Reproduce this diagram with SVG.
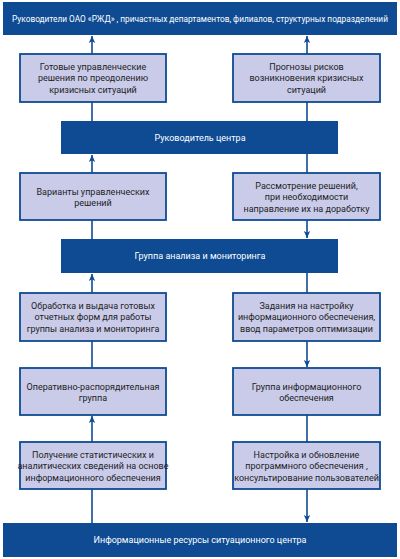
<svg xmlns="http://www.w3.org/2000/svg" width="400" height="559" viewBox="0 0 400 559">
<style>
.bar{fill:#0e4b93}
.box{fill:#c9cbe9;stroke:#0e4b93;stroke-width:1.8}
.wt{fill:#ffffff;font-family:Roboto,"Liberation Sans",sans-serif;font-size:9px;text-anchor:middle}
.bt{fill:#1e1e1e;font-family:Roboto,"Liberation Sans",sans-serif;font-size:9px;text-anchor:middle}
.ln{stroke:#0e4b93;stroke-width:1.6;fill:none}
</style>
<defs>
<marker id="ah" markerWidth="8" markerHeight="8" refX="7" refY="4" orient="auto" markerUnits="userSpaceOnUse">
<path d="M0,0.8 L7,4 L0,7.2 L1.8,4 Z" fill="#0e4b93"/>
</marker>
</defs>
<rect width="400" height="559" fill="#ffffff"/>
<g id="connectors">
<line class="ln" x1="92" y1="54" x2="92" y2="36" marker-end="url(#ah)"/>
<line class="ln" x1="92" y1="121" x2="92" y2="102"/>
<line class="ln" x1="92" y1="173" x2="92" y2="155" marker-end="url(#ah)"/>
<line class="ln" x1="92" y1="239" x2="92" y2="220"/>
<line class="ln" x1="92" y1="293" x2="92" y2="274" marker-end="url(#ah)"/>
<line class="ln" x1="92" y1="368" x2="92" y2="341"/>
<line class="ln" x1="92" y1="442" x2="92" y2="416" marker-end="url(#ah)"/>
<line class="ln" x1="92" y1="523" x2="92" y2="489"/>
<line class="ln" x1="307" y1="54" x2="307" y2="36" marker-end="url(#ah)"/>
<line class="ln" x1="307" y1="121" x2="307" y2="102"/>
<line class="ln" x1="307" y1="154" x2="307" y2="173"/>
<line class="ln" x1="307" y1="220" x2="307" y2="238" marker-end="url(#ah)"/>
<line class="ln" x1="307" y1="273" x2="307" y2="293"/>
<line class="ln" x1="307" y1="341" x2="307" y2="367" marker-end="url(#ah)"/>
<line class="ln" x1="307" y1="415" x2="307" y2="442"/>
<line class="ln" x1="307" y1="489" x2="307" y2="522" marker-end="url(#ah)"/>
</g>
<g id="top">
<rect class="bar" x="3" y="2" width="394" height="33"/>
<text class="wt" x="200" y="22" style="font-size:8.3px">Руководители ОАО «РЖД» , причастных департаментов, филиалов, структурных подразделений</text>
</g>
<g id="ready">
<rect class="box" x="20" y="54" width="146" height="48"/>
<text class="bt" x="93" y="69.5">Готовые управленческие</text>
<text class="bt" x="93" y="81">решения по преодолению</text>
<text class="bt" x="93" y="92.5">кризисных ситуаций</text>
</g>
<g id="forecast">
<rect class="box" x="233" y="54" width="147" height="48"/>
<text class="bt" x="306.5" y="69.5">Прогнозы рисков</text>
<text class="bt" x="306.5" y="81">возникновения кризисных</text>
<text class="bt" x="306.5" y="92.5">ситуаций</text>
</g>
<g id="head">
<rect class="bar" x="61" y="121" width="277" height="33"/>
<text class="wt" x="200" y="140.5">Руководитель центра</text>
</g>
<g id="variants">
<rect class="box" x="20" y="173" width="146" height="47"/>
<text class="bt" x="93" y="194.5">Варианты управленческих</text>
<text class="bt" x="93" y="206">решений</text>
</g>
<g id="review">
<rect class="box" x="233" y="173" width="147" height="47"/>
<text class="bt" x="306.5" y="188.5">Рассмотрение решений,</text>
<text class="bt" x="306.5" y="200">при необходимости</text>
<text class="bt" x="306.5" y="211.5">направление их на доработку</text>
</g>
<g id="analysis">
<rect class="bar" x="61" y="239" width="277" height="34"/>
<text class="wt" x="200" y="259">Группа анализа и мониторинга</text>
</g>
<g id="processing">
<rect class="box" x="20" y="293" width="146" height="48"/>
<text class="bt" x="93" y="308.5">Обработка и выдача готовых</text>
<text class="bt" x="93" y="320">отчетных форм для работы</text>
<text class="bt" x="93" y="331.5">группы анализа и мониторинга</text>
</g>
<g id="tasks">
<rect class="box" x="233" y="293" width="147" height="48"/>
<text class="bt" x="306.5" y="308.5">Задания на настройку</text>
<text class="bt" x="306.5" y="320">информационного обеспечения,</text>
<text class="bt" x="306.5" y="331.5">ввод параметров оптимизации</text>
</g>
<g id="operative">
<rect class="box" x="20" y="368" width="146" height="47"/>
<text class="bt" x="93" y="389.5">Оперативно-распорядительная</text>
<text class="bt" x="93" y="401">группа</text>
</g>
<g id="infogroup">
<rect class="box" x="233" y="368" width="147" height="47"/>
<text class="bt" x="306.5" y="389.5">Группа информационного</text>
<text class="bt" x="306.5" y="401">обеспечения</text>
</g>
<g id="stats">
<rect class="box" x="20" y="442" width="146" height="47"/>
<text class="bt" x="93" y="457.5">Получение статистических и</text>
<text class="bt" x="93" y="469">аналитических сведений на основе</text>
<text class="bt" x="93" y="480.5">информационного обеспечения</text>
</g>
<g id="setup">
<rect class="box" x="233" y="442" width="147" height="47"/>
<text class="bt" x="306.5" y="457.5">Настройка и обновление</text>
<text class="bt" x="306.5" y="469">программного обеспечения ,</text>
<text class="bt" x="306.5" y="480.5">консультирование пользователей</text>
</g>
<g id="resources">
<rect class="bar" x="3" y="523" width="394" height="34"/>
<text class="wt" x="200" y="543">Информационные ресурсы ситуационного центра</text>
</g>
</svg>
